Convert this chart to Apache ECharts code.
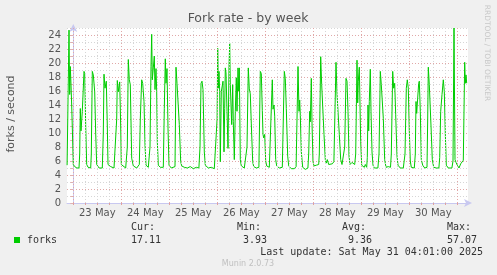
<!DOCTYPE html>
<html>
<head>
<meta charset="utf-8">
<script src="https://cdn.jsdelivr.net/npm/echarts@6/dist/echarts.min.js"></script>
<style>
html,body{margin:0;padding:0;background:#f0f0f0;}
#c{width:497px;height:275px;}
</style>
</head>
<body>
<div id="c"></div>
<script>
// hours since 23 May 00:00
var hours = [-3.1,-2.15,-1.8,-1.5,-1.15,-0.8,0,0.7,1.8,2.85,3.2,3.5,3.85,4.5,5.35,5.7,6.2,6.7,7.4,8.7,
9.0,9.5,10,10.7,11.2,11.7,12.9,14.5,15,15.35,15.85,16.5,17,17.35,18.7,20.35,21.2,21.7,22,22.5,
23.2,23.7,24,25,26.2,27,27.5,28,28.5,29.2,30,31.7,33,33.5,34.2,34.7,35.35,35.85,36.35,37.5,
38.35,38.85,39.2,39.5,40,40.5,40.85,41.35,41.7,42,42.5,43.5,45,45.5,46,46.35,46.85,47.35,47.85,49,
50.85,51.35,51.85,52.35,53,53.7,54.2,55.5,57,58.5,60,61.5,62.8,63.35,63.85,64.35,64.85,65.5,66,67.5,
69,70.5,71.4,71.9,72.2,72.5,72.85,73.2,73.5,74,74.5,74.85,75.35,75.7,76,76.35,76.85,77.35,77.85,78.2,
78.5,78.85,79.2,79.7,80,80.5,81,81.5,81.85,82.35,82.7,83,83.5,84,85.5,86.5,86.85,87.5,88,88.5,
89,89.7,90.2,91.5,92.8,93.5,94,94.5,94.85,95.2,95.7,96.2,96.7,98,98.8,99.5,99.85,100.35,100.7,101.2,
101.7,103,104.5,105.5,106,106.5,107.2,107.7,109,110.5,111.4,112.35,112.85,113.2,113.5,114,114.7,116,117.3,117.7,
118.2,118.5,119,119.35,119.85,120.35,121.5,122.7,123,123.7,124.2,124.7,125.35,126,126.5,127,127.7,128.5,129.5,130.3,
130.7,131.35,131.85,132.35,133,133.7,134.35,135.3,135.7,136.35,136.85,137.35,137.85,138.35,139.35,140.7,141.2,141.85,142.2,142.5,
143,143.35,143.7,144.2,145.5,146,146.7,147,147.35,147.7,148,148.5,148.85,149.35,149.85,150.5,152.3,152.85,153.5,154,
154.5,155,155.7,156.35,157.5,158.6,159,159.7,160.2,160.7,161.2,161.85,162.35,163.5,165,165.85,166.5,167,167.5,168,
168.5,169,170.5,171,171.35,171.7,172.2,172.7,173,173.5,174,174.7,175.7,176.85,177.2,177.5,178,178.35,178.85,179.5,
180.2,181.5,182.8,183.2,183.7,184.35,185,185.5,186,186.5,187.5,189.3,189.85,190.35,190.85,191.35,192,192.85,193.7,194.5,
195,195.7,196,196.35,196.7];
var forks = [5.4,24.7,15.5,19.5,16.9,14,5.5,5.2,5.0,5.0,7,13.5,10.3,13.1,18.8,18.5,11,5.5,5.1,5.0,
7,18.8,18.3,15.9,10,5.5,5.0,5.0,10,18.4,16.4,17.4,11,5.5,5.2,5.0,5.2,12,17.5,15.9,
17.3,11,5.5,5.3,5.0,8,20.5,17.6,16.9,6.4,5.3,5.0,5.5,12,17.6,17.1,14.5,8.3,5.4,5.1,
8,19.5,24.1,17.6,19.3,21,16.2,19.2,15.9,8.8,5.4,5.1,5.1,13.5,20.6,17.1,19.2,10.7,5.4,5.0,
5.2,19.4,17.1,17.1,11.2,5.9,5.3,5.1,5.0,5.2,4.9,5.1,5.0,8,17.1,17.4,16.2,7.3,5.4,5.0,
5.1,4.9,5.1,12,22.1,16.4,18.8,15.9,5.9,15.9,16,17.4,7.3,13.5,19.3,18.6,13.1,7.8,19.5,22.8,
16.9,14,11.2,16.9,11.6,6.2,13.1,17.9,13.1,19.3,16,19.3,6.2,5.3,5.0,5.1,8,19.3,16.3,15.6,
11.3,5.9,5.2,5.0,5.1,18.8,18.5,13.2,9.8,9.3,9.8,6,5.3,5.1,5.2,17.6,13.4,14,12.4,6.2,
5.3,5.0,5.1,18.8,17.8,13.5,6.7,5.3,4.9,4.9,5.2,19.5,13.1,14.7,12.5,7.3,5.1,4.8,5.0,7,
13.1,11.6,17.8,11.4,5.9,5.3,5.4,5.5,7,20.9,16.9,17.1,9.8,6.2,5.7,6.2,5.5,5.4,5.6,5.9,
6,20.1,15.6,15.8,9.8,6.2,5.5,5.6,8,17.8,17.4,13.1,6.7,5.5,5.8,5.5,7,20.4,14.3,17.4,
19.4,14,8.8,5.4,5.1,5.5,5.1,6.5,14,10.3,14.5,19.1,13.1,7.3,5.4,5.0,5.0,7,18.8,16.9,
17.1,12.1,6.2,5.1,5.2,5.1,7,18.8,16.4,17.1,12.6,6.7,5.4,5.0,5.0,7,16.4,17.6,16.4,10.3,
6,5.1,5.0,7,14.5,12.8,15,17.1,17.4,13.1,6.2,5.4,5.0,5.1,12,19.4,16.9,16.7,11,6.2,
5.1,5.0,5.0,6.5,13.1,15.5,17.6,15.9,10,5.4,5.0,5.0,6,25,6.2,5.8,5.4,5.0,5.6,5.4,
6.1,20.1,17.1,18.3,17.11];
var dayLabelHours = [12,36,60,84,108,132,156,180];
var dayLabels = ['23 May','24 May','25 May','26 May','27 May','28 May','29 May','30 May'];
var gridHours = [0,6,12,18,24,30,36,42,48,54,60,66,72,78,84,90,96,102,108,114,120,126,132,138,144,150,156,162,168,174,180,186,192];
var legendName = 'forks';
var statLabels = ['Cur:','Min:','Avg:','Max:'];
var statValues = ['17.11','3.93','9.36','57.07'];
var lastUpdate = 'Last update: Sat May 31 04:01:00 2025';

var data = hours.map(function(h,i){return [h, forks[i]];});
var chart = echarts.init(document.getElementById('c'), null, {renderer:'canvas'});

var vLines = gridHours.map(function(h){
  return {xAxis:h, lineStyle:{color: (h%24===0)?'#e0a8a8':'#d6d6d6', type:[1,2], width:1}};
});

var mono = '10px "DejaVu Sans Mono"';
var statX = [131,237,342,447];
var valX = [131,243,348,447];
var graphics = [
  {type:'text', style:{text:'Fork rate - by week', x:248, y:19, align:'center', verticalAlign:'middle', font:'12.5px "DejaVu Sans"', fill:'#555'}},
  {type:'text', x:11, y:114, rotation:Math.PI/2, style:{text:'forks / second', x:0, y:0, align:'center', verticalAlign:'middle', font:'11px "DejaVu Sans"', fill:'#555'}},
  {type:'text', x:487, y:53, rotation:-Math.PI/2, style:{text:'RRDTOOL / TOBI OETIKER', x:0, y:0, align:'center', verticalAlign:'middle', font:'7.5px "DejaVu Sans"', fill:'#c8c8c8'}},
  {type:'rect', shape:{x:14, y:237, width:6, height:6}, style:{fill:'#00cc00'}},
  {type:'text', style:{text:legendName, x:27, y:240, verticalAlign:'middle', font:mono, fill:'#333'}},
  {type:'text', style:{text:lastUpdate, x:483, y:252, align:'right', verticalAlign:'middle', font:mono, fill:'#333'}},
  {type:'text', style:{text:'Munin 2.0.73', x:248, y:264, align:'center', verticalAlign:'middle', font:'8px "DejaVu Sans"', fill:'#c0c0c0'}}
];
statLabels.forEach(function(t,i){
  graphics.push({type:'text', style:{text:t, x:statX[i], y:227, verticalAlign:'middle', font:mono, fill:'#333'}});
  graphics.push({type:'text', style:{text:statValues[i], x:valX[i], y:240, verticalAlign:'middle', font:mono, fill:'#333'}});
});

chart.setOption({
  animation:false,
  backgroundColor:'#f0f0f0',
  grid:{left:67, right:29, top:28, bottom:72, show:true, backgroundColor:'#ffffff', borderWidth:0},
  xAxis:{
    type:'value', min:-3.15, max:197.35,
    axisLine:{show:true, lineStyle:{color:'#c8c8f0'}, symbol:['none','arrow'], symbolSize:[6,8], symbolOffset:[0,4]},
    axisTick:{show:true, customValues:gridHours, length:2, lineStyle:{color:'#e0a0a0'}},
    axisLabel:{customValues:dayLabelHours, formatter:function(v){var i=dayLabelHours.indexOf(Math.round(v)); return i>=0?dayLabels[i]:'';}, color:'#555', fontSize:10, fontFamily:'DejaVu Sans', margin:5},
    splitLine:{show:false}
  },
  yAxis:{
    type:'value', min:0, max:25, interval:1,
    axisLine:{show:true, lineStyle:{color:'#c8c8f0'}, symbol:['none','arrow'], symbolSize:[6,8], symbolOffset:[0,4]},
    axisTick:{show:true, length:3, lineStyle:{color:'#e0b0b0'}},
    axisLabel:{formatter:function(v){return (v%2===0 && v<=24)?String(v):'';}, color:'#555', fontSize:10, fontFamily:'DejaVu Sans', margin:6},
    splitLine:{show:true, lineStyle:{color:['#e0a8a8','#d6d6d6'], type:[1,2], width:1}}
  },
  series:[
    {type:'line', data:[], silent:true, z:1, markLine:{silent:true, symbol:['none','none'], label:{show:false}, data:vLines, animation:false}},
    {type:'line', data:data, showSymbol:false, symbol:'none', clip:true, z:3, lineStyle:{color:'#00cc00', width:1}, itemStyle:{color:'#00cc00'}}
  ],
  graphic:graphics
});
</script>
</body>
</html>
